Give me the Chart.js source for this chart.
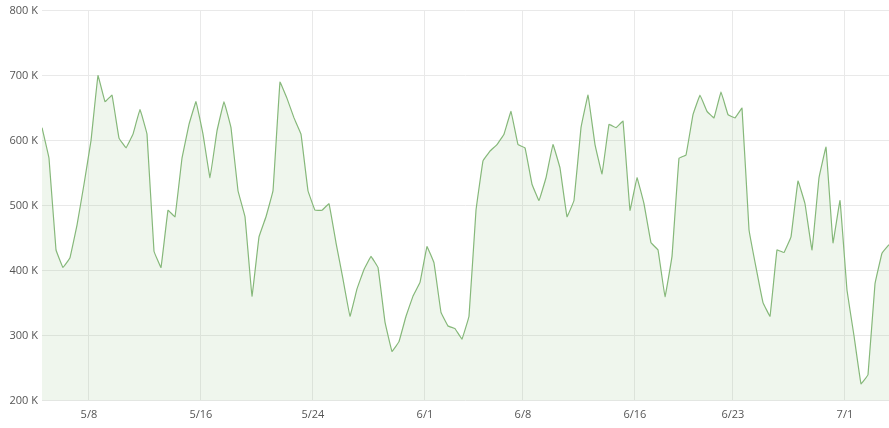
<!DOCTYPE html>
<html>
<head>
<meta charset="utf-8">
<script src="https://cdn.jsdelivr.net/npm/chart.js@4"></script>
<style>
  html, body { margin: 0; padding: 0; background: #fff; }
  #wrap { width: 889px; height: 428px; }
</style>
</head>
<body>
<div id="wrap"><canvas id="chart"></canvas></div>
<script>
// values in thousands, one every half day, first sample ~3.35 days before 5/8
const startDay = -3.35;
const stepDays = 0.5;
const values = [
  620, 573, 432, 405, 420, 470, 533, 600, 700, 660, 670, 604, 589, 610, 648, 610,
  430, 405, 493, 483, 573, 625, 660, 610, 543, 615, 660, 620, 523, 483, 361, 452,
  483, 523, 690, 665, 635, 610, 523, 493, 493, 503, 443, 387, 330, 372, 402, 422,
  405, 321, 276, 291, 330, 361, 382, 437, 412, 336, 315, 311, 295, 330, 493, 569,
  584, 594, 610, 645, 594, 589, 533, 508, 543, 594, 558, 483, 508, 620, 670, 594,
  549, 625, 620, 630, 493, 543, 503, 443, 432, 360, 422, 573, 578, 640, 670, 645,
  635, 675, 640, 635, 650, 463, 405, 351, 330, 432, 428, 452, 538, 503, 432, 543,
  590, 443, 508, 370, 300, 226, 240, 380, 427, 440
];
const tickDays = [0, 8, 16, 24, 31, 39, 46, 54];
const tickLabels = ['5/8', '5/16', '5/24', '6/1', '6/8', '6/16', '6/23', '7/1'];
const yTicks = [200, 300, 400, 500, 600, 700, 800];

const points = values.map(function (v, i) {
    return { x: startDay + i * stepDays, y: v };
});

const ctx = document.getElementById('chart');
new Chart(ctx, {
    type: 'line',
    data: {
        datasets: [{
            data: points,
            borderColor: 'rgb(134, 184, 122)',
            backgroundColor: 'rgba(140, 192, 128, 0.14)',
            borderWidth: 1.2,
            pointRadius: 0,
            fill: 'start',
            tension: 0.05
        }]
    },
    options: {
        responsive: true,
        maintainAspectRatio: false,
        animation: false,
        layout: { padding: { top: 6, right: 0, left: 0, bottom: 0 } },
        plugins: { legend: { display: false }, tooltip: { enabled: false } },
        scales: {
            x: {
                type: 'linear',
                min: startDay,
                max: startDay + (values.length - 1) * stepDays,
                afterBuildTicks: function (axis) {
                    axis.ticks = tickDays.map(function (d) { return { value: d }; });
                },
                ticks: {
                    autoSkip: false,
                    maxRotation: 0,
                    color: '#555',
                    font: { family: 'Open Sans', size: 11 },
                    padding: 7,
                    callback: function (v) {
                        const i = tickDays.indexOf(v);
                        return i >= 0 ? tickLabels[i] : '';
                    }
                },
                grid: { color: '#e9e9e9', drawTicks: false },
                border: { display: false }
            },
            y: {
                min: 200,
                max: 800,
                afterBuildTicks: function (axis) {
                    axis.ticks = yTicks.map(function (v) { return { value: v }; });
                },
                afterFit: function (axis) { axis.width = 42; },
                ticks: {
                    color: '#555',
                    font: { family: 'Open Sans', size: 11 },
                    padding: 4,
                    callback: function (v) { return v + ' K'; }
                },
                grid: { color: '#e9e9e9', drawTicks: false },
                border: { display: false }
            }
        }
    }
});
</script>
</body>
</html>
